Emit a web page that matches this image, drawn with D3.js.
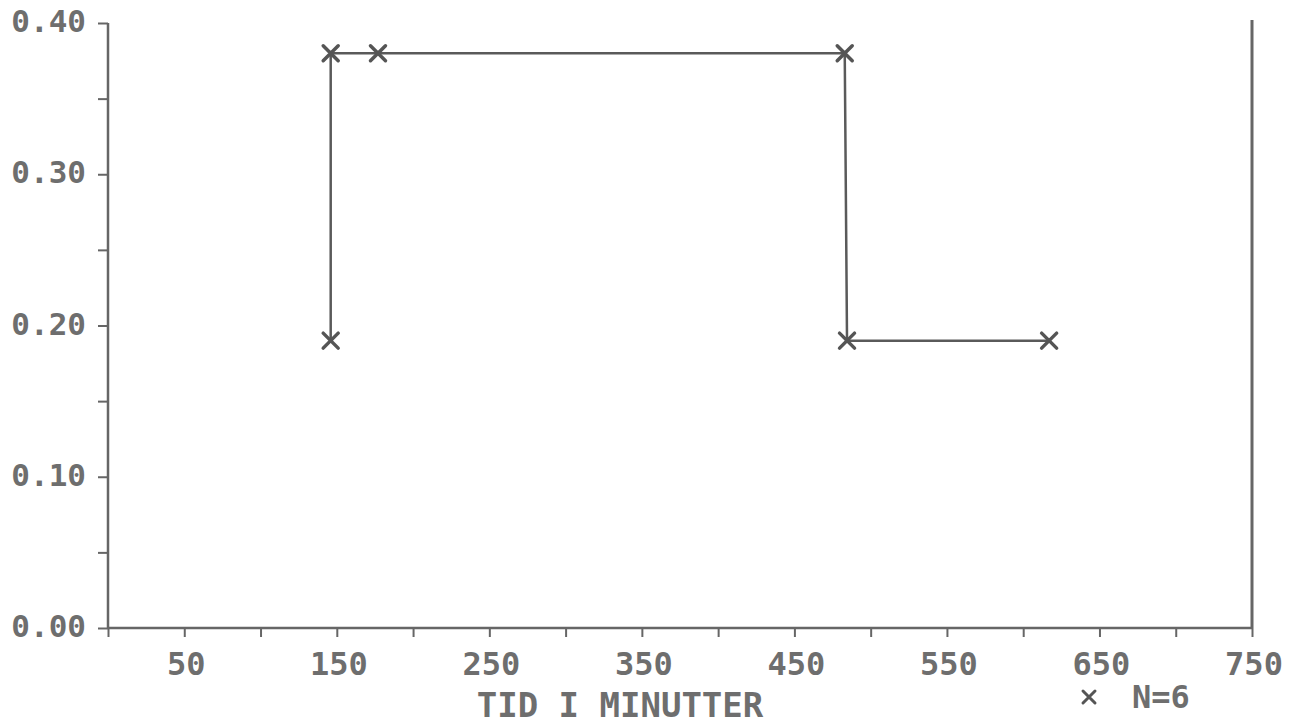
<!DOCTYPE html>
<html><head><meta charset="utf-8">
<script src="https://cdn.jsdelivr.net/npm/d3@7"></script>
<style>
html,body{margin:0;padding:0;background:#fff;}
svg{display:block;}
text{font-family:"DejaVu Sans Mono",monospace;fill:#6e6e6e;font-weight:bold;}
</style></head>
<body>
<svg id="chart" width="1300" height="725"></svg>
<script>
// Data
const xValues = [146, 146, 177, 483, 484.5, 617];
const yValues = [0.19, 0.38, 0.38, 0.38, 0.19, 0.19];
const xTickValues = [0, 50, 100, 150, 200, 250, 300, 350, 400, 450, 500, 550, 600, 650, 700, 750];
const xTickLabels = ["50", "150", "250", "350", "450", "550", "650", "750"];
const xLabelValues = [50, 150, 250, 350, 450, 550, 650, 750];
const yTickValues = [0, 0.05, 0.10, 0.15, 0.20, 0.25, 0.30, 0.35, 0.40];
const yLabelValues = [0, 0.10, 0.20, 0.30, 0.40];
const yTickLabels = ["0.00", "0.10", "0.20", "0.30", "0.40"];
const xTitle = "TID I MINUTTER";
const legendLabel = "N=6";

const svg = d3.select("#chart");
const x = d3.scaleLinear().domain([0, 750]).range([108, 1252]);
const y = d3.scaleLinear().domain([0, 0.40]).range([628, 23]);
const ink = "#666";

// Y axis
const yAxis = d3.axisLeft(y).tickValues(yTickValues).tickSize(10).tickFormat("");
const gy = svg.append("g").attr("transform", `translate(${x(0)},0)`).call(yAxis);
gy.select(".domain").remove();
gy.selectAll(".tick line").attr("stroke", ink).attr("stroke-width", 2);
svg.append("line").attr("x1", x(0)).attr("x2", x(0)).attr("y1", y(0.40)).attr("y2", y(0))
  .attr("stroke", ink).attr("stroke-width", 2.5);

// X axis
const xAxis = d3.axisBottom(x).tickValues(xTickValues).tickSize(9).tickFormat("");
const gx = svg.append("g").attr("transform", `translate(0,${y(0)})`).call(xAxis);
gx.select(".domain").remove();
gx.selectAll(".tick line").attr("stroke", ink).attr("stroke-width", 2);
svg.append("line").attr("x1", x(0)).attr("x2", x(750)).attr("y1", y(0)).attr("y2", y(0))
  .attr("stroke", ink).attr("stroke-width", 2.5);

// Right frame line
svg.append("line").attr("x1", x(750)).attr("x2", x(750)).attr("y1", 20).attr("y2", y(0))
  .attr("stroke", ink).attr("stroke-width", 3);

// Y labels
svg.selectAll(".ylab").data(yLabelValues).enter().append("text")
  .attr("x", 86).attr("y", d => y(d) + 9)
  .attr("text-anchor", "end").attr("font-size", 31)
  .text((d, i) => yTickLabels[i]);

// X labels
svg.selectAll(".xlab").data(xLabelValues).enter().append("text")
  .attr("x", d => x(d) + 2).attr("y", 675)
  .attr("text-anchor", "middle").attr("font-size", 32)
  .text((d, i) => xTickLabels[i]);

// X title
svg.append("text").attr("x", 620).attr("y", 717).attr("text-anchor", "middle")
  .attr("font-size", 34).text(xTitle);

// Data line
const pts = xValues.map((v, i) => [v, yValues[i]]);
svg.append("path").datum(pts)
  .attr("d", d3.line().x(d => x(d[0])).y(d => y(d[1])))
  .attr("fill", "none").attr("stroke", "#5a5a5a").attr("stroke-width", 2.5);

function cross(g, cx, cy, r, w) {
  g.append("path").attr("d", `M${cx-r},${cy-r}L${cx+r},${cy+r}M${cx-r},${cy+r}L${cx+r},${cy-r}`)
    .attr("stroke", "#555").attr("stroke-width", w).attr("stroke-linecap", "round").attr("fill", "none");
}
const mg = svg.append("g");
pts.forEach(d => cross(mg, x(d[0]), y(d[1]), 7.5, 3.5));

// Legend
cross(svg.append("g"), 1089, 697, 6, 3);
svg.append("text").attr("x", 1132).attr("y", 708).attr("font-size", 32).text(legendLabel);
</script>
</body></html>
